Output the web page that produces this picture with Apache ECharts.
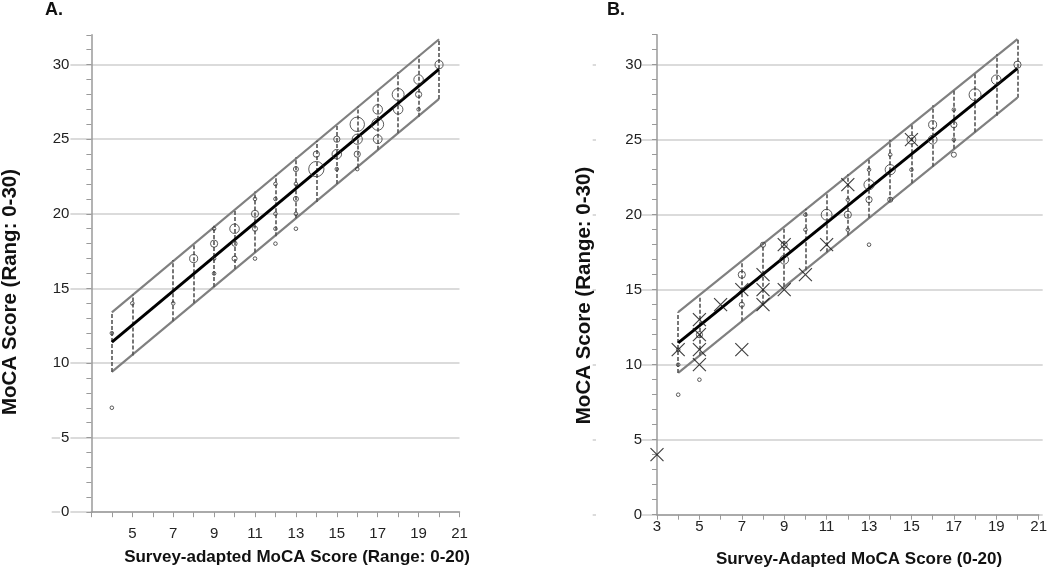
<!DOCTYPE html>
<html><head><meta charset="utf-8">
<script src="https://cdn.jsdelivr.net/npm/echarts@6/dist/echarts.min.js"></script>
<style>html,body{margin:0;padding:0;background:#fff}#c{width:1050px;height:572px}</style>
</head><body><div id="c"></div>
<script>
// ---------------- DATA ----------------
// Panel A: [survey-adapted score, MoCA score, count]
const pointsA = [
  [4,12,1],[4,7,1],[5,14,1],[7,14,1],[8,17,5],
  [9,19,1],[9,18,4],[9,17,1],[9,16,1],
  [10,19,7],[10,18,2],[10,17,2],
  [11,21,1],[11,20,4],[11,19,2],[11,17,1],
  [12,22,1],[12,21,1],[12,20,1],[12,19,1],[12,18,1],
  [13,23,2],[13,22,1],[13,21,2],[13,20,1],[13,19,1],
  [14,24,3],[14,23,18],
  [15,25,3],[15,24,7],[15,23,1],
  [16,26,16],[16,25,8],[16,24,3],[16,23,1],
  [17,27,7],[17,26,11],[17,25,6],
  [18,28,11],[18,27,7],
  [19,29,7],[19,28,3],[19,27,1],
  [20,30,5]
];
// Panel B circles: [survey-adapted score, MoCA score, count]
const pointsB = [
  [4,11,1],[4,10,1],[4,8,1],
  [5,12,3],[5,9,1],
  [7,16,4],[7,14,2],
  [8,18,2],
  [9,18,3],[9,17,6],
  [10,20,1],[10,19,1],
  [11,20,9],
  [12,21,1],[12,20,4],[12,19,1],
  [13,23,1],[13,22,8],[13,21,3],[13,18,1],
  [14,24,1],[14,23,8],[14,21,2],
  [15,25,6],[15,23,1],
  [16,26,5],[16,25,6],
  [17,27,1],[17,26,3],[17,25,1],[17,24,2],
  [18,28,11],
  [19,29,7],
  [20,30,4]
];
// Panel B cross markers: [survey-adapted score, MoCA score]
const crossesB = [
  [3,4],[4,11],[5,13],[5,12],[5,11],[5,10],[6,14],[7,15],[7,11],
  [8,16],[8,15],[8,14],[9,18],[9,15],[10,16],[11,18],[12,22],[15,25]
];
// Regression line and prediction band end points
const fitA   = [[4,11.4],[20,29.7]];
const upperA = [[4,13.4],[20,31.7]];
const lowerA = [[4,9.4],[20,27.7]];
const fitB   = [[4,11.45],[20,29.75]];
const upperB = [[4,13.5],[20,31.7]];
const lowerB = [[4,9.45],[20,27.8]];
// Dashed vertical ranges
const rangeX   = [4,5,7,8,9,10,11,12,13,14,15,16,17,18,19,20];
const rangeLoA = [9.4,10.5,12.8,14.0,15.1,16.3,17.4,18.5,19.7,20.8,22.0,23.1,24.3,25.4,26.5,27.7];
const rangeHiA = [13.4,14.6,16.9,18.0,19.2,20.3,21.5,22.6,23.8,24.9,26.0,27.2,28.3,29.5,30.6,31.7];
const rangeLoB = [9.45,10.6,12.9,14.0,15.2,16.3,17.5,18.6,19.8,20.9,22.1,23.2,24.4,25.5,26.6,27.8];
const rangeHiB = [13.5,14.6,16.9,18.1,19.2,20.4,21.5,22.7,23.8,25.0,26.1,27.3,28.4,29.5,30.7,31.7];
// Tick labels
const yTickLabels  = [0,5,10,15,20,25,30];
const xTickLabelsA = [5,7,9,11,13,15,17,19,21];
const xTickLabelsB = [3,5,7,9,11,13,15,17,19,21];

// ---------------- LAYOUT / STYLE ----------------
const FONT = "'Liberation Sans', Arial, sans-serif";
const A = {x3: 91.4, x21: 459.5, y0: 512.2, y32: 34.8, y30: 64.6, gridLeft: 51.7};
const B = {x3: 657, x21: 1042.7, y0: 514.7, y32: 34.7, y30: 64.7, gridLeft: 592.7};

function sizeOf(v){ return 3.6*Math.sqrt(v[2]); }

function overlayGrid(P){
  return {left:P.gridLeft, top:P.y30, width:P.x21-P.gridLeft, height:P.y0-P.y30};
}
function mainGrid(P){
  return {left:P.x3, top:P.y32, width:P.x21-P.x3, height:P.y0-P.y32};
}
function overlayX(gi){ return {gridIndex:gi, type:'value', min:0, max:1, show:false}; }
function overlayY(gi){
  return {gridIndex:gi, type:'value', min:0, max:30, interval:5,
    axisLine:{show:false}, axisTick:{show:false}, axisLabel:{show:false},
    splitLine:{show:true, lineStyle:{color:'#cfcfcf', width:1.5}}};
}
function mainX(gi, labels, margin){
  return {gridIndex:gi, type:'value', min:3, max:21, interval:1, z:1,
    axisLine:{show:true, lineStyle:{color:'#9a9a9a', width:1.5}},
    axisTick:{show:true, length:5, lineStyle:{color:'#9a9a9a', width:1}},
    splitLine:{show:false},
    axisLabel:{margin:margin, fontSize:15, fontFamily:FONT, color:'#222',
      formatter:v=>labels.includes(v)?String(v):''}};
}
function mainY(gi, margin, rich){
  return {gridIndex:gi, type:'value', min:0, max:32, interval:1, z:1,
    axisLine:{show:true, lineStyle:{color:'#9a9a9a', width:1.5}},
    axisTick:{show:true, length:5, lineStyle:{color:'#9a9a9a', width:1}},
    splitLine:{show:false},
    axisLabel:{margin:margin, fontSize:15, fontFamily:FONT, color:'#222',
      formatter:v=>yTickLabels.includes(v)?('{t|'+v+'}'):'',
      rich:{t:rich}}};
}
function lineSeries(ai, data, color, width, z){
  return {type:'line', xAxisIndex:ai, yAxisIndex:ai, data:data, symbol:'none',
    lineStyle:{color:color, width:width}, z:z, silent:true, animation:false};
}
function rangeSeries(ai, lo, hi){
  return {type:'lines', coordinateSystem:'cartesian2d', xAxisIndex:ai, yAxisIndex:ai,
    data:rangeX.map((x,i)=>({coords:[[x,lo[i]],[x,hi[i]]]})),
    lineStyle:{color:'#555', width:1.6, type:[4,2], opacity:1}, z:4, silent:true, animation:false};
}
function circleSeries(ai, pts){
  return {type:'scatter', xAxisIndex:ai, yAxisIndex:ai, data:pts, symbol:'circle',
    symbolSize:sizeOf, itemStyle:{color:'rgba(0,0,0,0)', borderColor:'#333', borderWidth:1},
    z:6, silent:true, animation:false};
}

const option = {
  animation:false,
  grid:[overlayGrid(A), mainGrid(A), overlayGrid(B), mainGrid(B)],
  xAxis:[overlayX(0), mainX(1, xTickLabelsA, 14), overlayX(2), mainX(3, xTickLabelsB, 5)],
  yAxis:[overlayY(0),
         mainY(1, 21, {fontSize:15, fontFamily:FONT, color:'#222', backgroundColor:'#fff', padding:[0,1]}),
         overlayY(2),
         mainY(3, 15, {fontSize:15, fontFamily:FONT, color:'#222', backgroundColor:'#fff', width:46, align:'right'})],
  series:[
    lineSeries(1, upperA, '#808080', 2.2, 3),
    lineSeries(1, lowerA, '#808080', 2.2, 3),
    rangeSeries(1, rangeLoA, rangeHiA),
    lineSeries(1, fitA, '#000', 3, 5),
    circleSeries(1, pointsA),
    lineSeries(3, upperB, '#808080', 2.2, 3),
    lineSeries(3, lowerB, '#808080', 2.2, 3),
    rangeSeries(3, rangeLoB, rangeHiB),
    lineSeries(3, fitB, '#000', 3, 5),
    circleSeries(3, pointsB),
    {type:'scatter', xAxisIndex:3, yAxisIndex:3, data:crossesB,
     symbol:'path://M0,0L10,10M10,0L0,10', symbolSize:13,
     itemStyle:{color:'rgba(0,0,0,0)', borderColor:'#111', borderWidth:1.2},
     z:7, silent:true, animation:false}
  ],
  graphic:[
    {type:'text', x:45, y:10, style:{text:'A.', font:'bold 18px '+FONT, fill:'#111', align:'left', verticalAlign:'middle'}},
    {type:'text', x:607, y:10, style:{text:'B.', font:'bold 18px '+FONT, fill:'#111', align:'left', verticalAlign:'middle'}},
    {type:'text', x:10, y:292, rotation:Math.PI/2, style:{text:'MoCA Score (Rang: 0-30)', font:'bold 20.5px '+FONT, fill:'#111', align:'center', verticalAlign:'middle'}},
    {type:'text', x:584, y:295.5, rotation:Math.PI/2, style:{text:'MoCA Score (Range: 0-30)', font:'bold 20.5px '+FONT, fill:'#111', align:'center', verticalAlign:'middle'}},
    {type:'text', x:297, y:557, style:{text:'Survey-adapted MoCA Score (Range: 0-20)', font:'bold 17px '+FONT, fill:'#111', align:'center', verticalAlign:'middle'}},
    {type:'text', x:859, y:559.5, style:{text:'Survey-Adapted MoCA Score (0-20)', font:'bold 17px '+FONT, fill:'#111', align:'center', verticalAlign:'middle'}}
  ]
};
echarts.init(document.getElementById('c'), null, {renderer:'canvas'}).setOption(option);
</script></body></html>
